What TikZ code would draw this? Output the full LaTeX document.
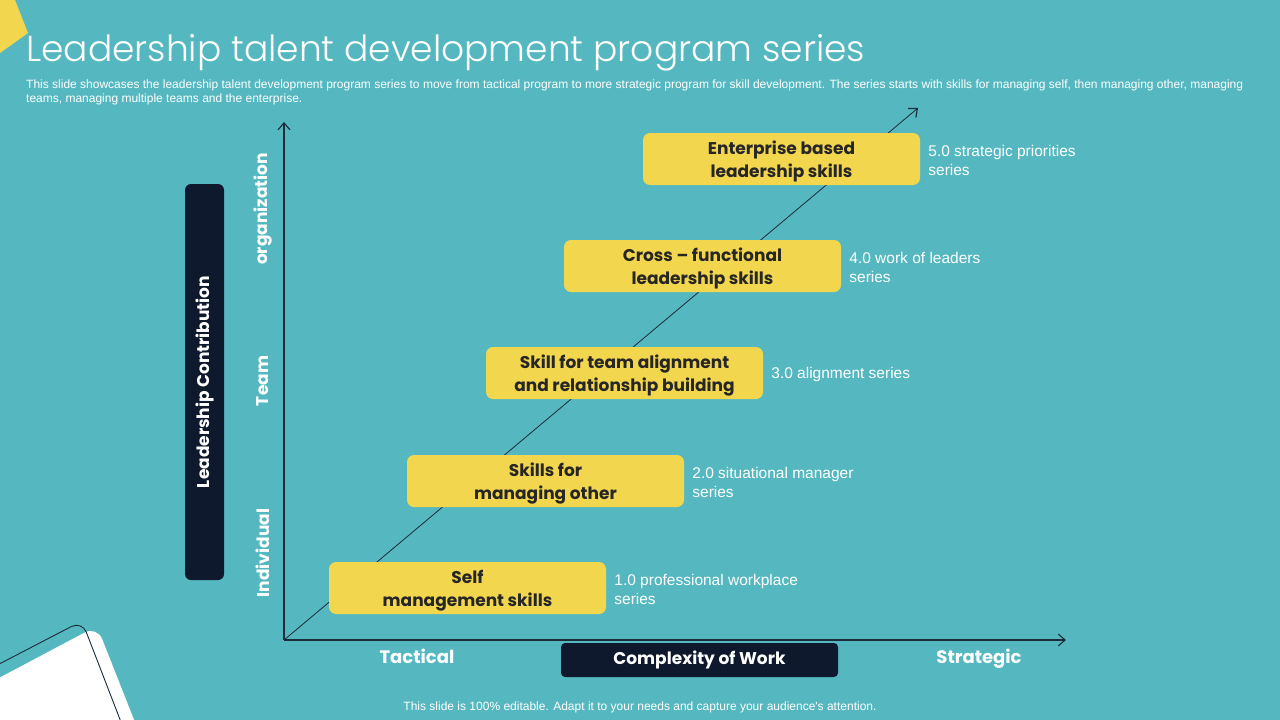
\documentclass[tikz,border=0pt]{standalone}
\usepackage{fontspec}
\setmainfont{Poppins}
\newfontfamily\arialf{Liberation Sans}
\newfontfamily\titlef{Poppins Light}
\usetikzlibrary{arrows.meta}
\definecolor{bgteal}{HTML}{55B8C0}
\definecolor{skyellow}{HTML}{F2D64E}
\definecolor{navy}{HTML}{0E192D}
\definecolor{axisc}{HTML}{1A2B3A}
\definecolor{boxtext}{HTML}{262626}
\newcommand\boxlines[2]{\rule{0pt}{20pt}#1\\#2\rule[-7pt]{0pt}{7pt}}
\tikzset{
  skillbox/.style={fill=skyellow, rounded corners=7pt, minimum width=277pt, minimum height=52pt,
    align=center, text=boxtext, inner sep=0pt, font=\fontsize{17}{23}\selectfont\bfseries},
  sidelabel/.style={anchor=west, align=left, text=white, inner sep=0pt,
    font=\arialf\fontsize{15.5}{19}\selectfont},
  axislabel/.style={text=white, rotate=90, inner sep=0pt, font=\fontsize{17}{20}\selectfont\bfseries},
  darkbox/.style={fill=navy, rounded corners=6pt, text=white, inner sep=0pt, font=\fontsize{17}{20}\selectfont\bfseries},
  xlabel/.style={text=white, inner sep=0pt, text height=13pt, text depth=0pt, font=\fontsize{18}{20}\selectfont\bfseries},
  axisline/.style={draw=axisc, line width=1.1pt, -{Straight Barb[length=7pt,width=12pt,line width=1.1pt]}},
}
\begin{document}
\begin{tikzpicture}[x=1pt,y=-1pt]
\useasboundingbox (0,0) rectangle (1280,720);
\fill[bgteal] (0,0) rectangle (1280,720);
% decorations
\fill[skyellow] (0,0) -- (15,0) -- (28,33) -- (0,53) -- cycle;
\fill[white, rounded corners=14pt] (-20,688) -- (97,626) -- (142,740) -- (-20,740) -- cycle;
\draw[axisc, line width=0.9pt, rounded corners=12pt] (-20,674) -- (82,621) -- (126,735);
% title
\node[anchor=base west, inner sep=0pt, text=white, font=\titlef\fontsize{36}{40}\selectfont] (title) at (26,61) {Leadership talent development program series};
\node[anchor=north west, inner sep=0pt, text=white, align=left, font=\arialf\fontsize{12}{14}\selectfont] (sub) at (26,80) {This slide showcases the leadership talent development program series to move from tactical program to more strategic program for skill development. The series starts with skills for managing self, then managing other, managing\\teams, managing multiple teams and the enterprise.};
% axes
\coordinate (O) at (284,640);
\coordinate (ytop) at (284,122);
\coordinate (xend) at (1066,640);
\coordinate (dend) at (918,108);
\draw[axisline] (O) -- (ytop);
\draw[axisline] (O) -- (xend);
\draw[axisline, line width=0.8pt] (O) -- (dend);
% boxes
\node[skillbox] (b1) at (467.5,588) {\boxlines{Self}{management skills}};
\node[skillbox] (b2) at (545.5,481) {\boxlines{Skills for}{managing other}};
\node[skillbox] (b3) at (624.5,373) {\boxlines{Skill for team alignment}{and relationship building}};
\node[skillbox] (b4) at (702.5,266) {\boxlines{Cross -- functional}{leadership skills}};
\node[skillbox] (b5) at (781.5,159) {\boxlines{Enterprise based}{leadership skills}};
\node[sidelabel] (l1) at ([xshift=8pt,yshift=-1pt]b1.east) {1.0 professional workplace\\series};
\node[sidelabel] (l2) at ([xshift=8pt,yshift=-1pt]b2.east) {2.0 situational manager\\series};
\node[sidelabel] (l3) at ([xshift=8pt,yshift=-1pt]b3.east) {3.0 alignment series};
\node[sidelabel] (l4) at ([xshift=8pt,yshift=-1pt]b4.east) {4.0 work of leaders\\series};
\node[sidelabel] (l5) at ([xshift=8pt,yshift=-1pt]b5.east) {5.0 strategic priorities\\series};
% y-axis labels
\node[darkbox, minimum width=396pt, minimum height=39pt, rotate=90] (lc) at (204.5,382) {Leadership Contribution};
\node[axislabel] (ind) at (263,553) {Individual};
\node[axislabel] (team) at (263,381) {Team};
\node[axislabel] (org) at (263,209) {organization};
% x-axis labels
\node[xlabel] (tac) at (417,657) {Tactical};
\node[xlabel] (str) at (979,657) {Strategic};
\node[darkbox, minimum width=277pt, minimum height=34pt, rounded corners=4pt] (cw) at (699.5,660) {Complexity of Work};
% footer
\node[text=white, inner sep=0pt, font=\arialf\fontsize{12}{14}\selectfont] (foot) at (640,707) {This slide is 100\% editable. Adapt it to your needs and capture your audience's attention.};
\end{tikzpicture}
\end{document}
